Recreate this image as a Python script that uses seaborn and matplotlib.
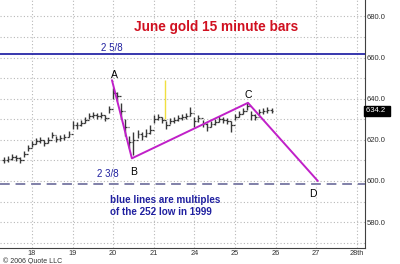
import matplotlib
matplotlib.use("Agg")
import matplotlib.pyplot as plt
import seaborn as sns
import numpy as np
import pandas as pd

# ---- data ----
day_labels = ["18", "19", "20", "21", "24", "25", "26", "27", "28th"]
day_pos = [1, 2, 3, 4, 5, 6, 7, 8, 9]

bar_t = [0.3, 0.4, 0.5, 0.6, 0.7, 0.8, 0.9, 1.0, 1.1, 1.2, 1.3, 1.4, 1.5, 1.6, 1.7, 1.8, 1.9,
         2.0, 2.1, 2.2, 2.3, 2.4, 2.5, 2.6, 2.7, 2.8, 2.9,
         3.0, 3.1, 3.2, 3.3, 3.4, 3.5, 3.6, 3.7, 3.8, 3.9,
         4.0, 4.1, 4.2, 4.3, 4.4, 4.5, 4.6, 4.7, 4.8, 4.9,
         5.0, 5.1, 5.2, 5.3, 5.4, 5.5, 5.6, 5.7, 5.8, 5.9,
         6.0, 6.1, 6.2, 6.3, 6.4, 6.5, 6.6, 6.7, 6.8, 6.9]
bar_close = [610, 610.5, 611.5, 611, 610, 613, 616, 618, 619.5, 620, 618.5, 620, 622.5, 620.5, 621, 621.5, 623,
             627, 627, 628, 629.5, 631.5, 632, 631.5, 632, 630.5, 635,
             643, 641.5, 634, 626, 619, 620, 623, 622, 623.5, 625,
             630, 631, 629.5, 627, 629, 629.5, 630.5, 631, 631.5, 633,
             629, 630.5, 627.5, 626, 627.5, 628.5, 630, 629.5, 629, 627,
             631, 632.5, 634, 636.5, 632, 631, 633.5, 634, 634.5, 634.2]
bar_high = [611.5, 612, 613, 612.5, 611.5, 614.5, 617.5, 619.5, 621, 621.5, 620, 621.5, 624, 622, 622.5, 623, 624.5,
            629, 628.5, 629.5, 631, 633, 633.5, 633, 633.5, 632, 636.5,
            645, 643.5, 638, 630, 622, 624, 625, 624, 625.5, 627,
            632, 632.5, 631, 629, 630.5, 631, 632, 632.5, 633, 636,
            631, 632, 629.5, 628, 629, 630, 631.5, 631, 630.5, 629,
            632.5, 634, 635.5, 638, 634, 632.5, 635, 635.5, 636, 635.5]
bar_low = [608.5, 609, 610, 609.5, 608.5, 611.5, 614.5, 616.5, 618, 618.5, 617, 618.5, 621, 619, 619.5, 620, 621.5,
           625.5, 625.5, 626.5, 628, 630, 630.5, 630, 630.5, 629, 633,
           640, 639, 630, 622, 616, 612.5, 621, 620, 621.5, 623,
           628, 629.5, 628, 625.5, 627.5, 628, 629, 629.5, 630, 631.5,
           626, 628.5, 626, 624.5, 626, 627, 628.5, 628, 627.5, 624,
           629.5, 631, 632.5, 634.5, 629.5, 629.5, 632, 632.5, 633, 633]

spike_t = [4.28]
spike_lo = [630]
spike_hi = [649]

pattern_labels = ["A", "B", "C", "D"]
pattern_t = [2.97, 3.46, 6.32, 8.04]
pattern_v = [649, 611, 638, 600]

upper_level = 661.5   # 2 5/8 x 252
lower_level = 598.5   # 2 3/8 x 252
last_price = 634.2

# ---- figure ----
sns.set_theme(style="white")
plt.rcParams['font.family'] = ['Liberation Sans', 'DejaVu Sans']

fig = plt.figure(figsize=(4.0, 2.64), dpi=100)
ax = fig.add_axes([0.0, 16 / 264, 364.5 / 400, 248 / 264])
ax.set_facecolor("white")

ax.set_xlim(0.212, 9.19)
ax.set_ylim(567.4, 688.0)

# grid
for gx in range(0, 10):
    ax.axvline(gx, color="#b8b8b8", lw=0.8, ls=(0, (1, 2)), zorder=0)
for gy in range(570, 690, 10):
    ax.axhline(gy, color="#b8b8b8", lw=0.8, ls=(0, (1, 2)), zorder=0)

# price bars (OHLC style)
bt = np.array(bar_t)
bc = np.array(bar_close)
bo = np.concatenate([[bc[0]], bc[:-1]])
ax.vlines(bt, bar_low, bar_high, color="#383838", lw=1.0, zorder=2)
ax.hlines(bc, bt, bt + 0.045, color="#383838", lw=0.9, zorder=2)
ax.hlines(bo, bt - 0.045, bt, color="#383838", lw=0.9, zorder=2)
ax.vlines(spike_t, spike_lo, spike_hi, color="#f0e040", lw=1.0, zorder=2)

# levels
ax.axhline(upper_level, color="#1515a0", lw=1.2, zorder=3)
ax.axhline(lower_level, color="#8080a8", lw=1.4, ls=(0, (5, 3)), zorder=3)

# ABCD pattern
pat = pd.DataFrame({"t": pattern_t, "v": pattern_v})
sns.lineplot(data=pat, x="t", y="v", sort=False, color="#c020c8", lw=1.4, ax=ax, zorder=4)

lab_off = [(0.06, 2.5), (0.03, -6.5), (0.0, 4.0), (-0.12, -6.5)]
for l, t, v, (dx, dy) in zip(pattern_labels, pattern_t, pattern_v, lab_off):
    ax.text(t + dx, v + dy, l, ha="center", va="center", fontsize=7.5, color="black")

# texts
ax.text(216 / 40.6 + 8.6 / 40.6, 675, "June gold 15 minute bars", ha="center", va="center",
        fontsize=9.8, fontweight="bold", color="#d01020")
ax.text(2.97, 664.5, "2 5/8", ha="center", va="center", fontsize=7, color="#2020a0")
ax.text(2.87, 603.5, "2 3/8", ha="center", va="center", fontsize=7, color="#2020a0")
ax.text(2.92, 593, "blue lines are multiples\nof the 252 low in 1999", ha="left", va="top",
        fontsize=7.1, fontweight="bold", color="#2020a0", linespacing=1.2)

# axes styling
for s in ["left", "top"]:
    ax.spines[s].set_visible(False)
ax.spines["right"].set_color("#404040")
ax.spines["bottom"].set_color("#404040")
ax.spines["right"].set_linewidth(0.8)
ax.spines["bottom"].set_linewidth(0.8)

ax.set_xticks(day_pos)
ax.set_xticklabels(day_labels, fontsize=5.3, color="#303030")
ax.tick_params(axis="x", length=1.5, pad=0.0, color="#404040")
ax.yaxis.tick_right()
yt = [580, 600, 620, 640, 660, 680]
ax.set_yticks(yt)
ax.set_yticklabels([f"{v:.1f}" for v in yt], fontsize=5.5, color="#303030")
ax.tick_params(axis="y", length=0, pad=1.5)
ax.set_xlabel("")
ax.set_ylabel("")
if ax.get_legend():
    ax.get_legend().remove()

ax.text(1.003, last_price, f"{last_price:.1f}  ", transform=ax.get_yaxis_transform(),
        ha="left", va="center", fontsize=5.5, color="white",
        bbox=dict(boxstyle="square,pad=0.2", fc="black", ec="black"))

fig.text(0.008, -0.004, "© 2006 Quote LLC", fontsize=5.0, color="#303030", ha="left", va="bottom")

fig.savefig("out.png", dpi=100, facecolor="white")
